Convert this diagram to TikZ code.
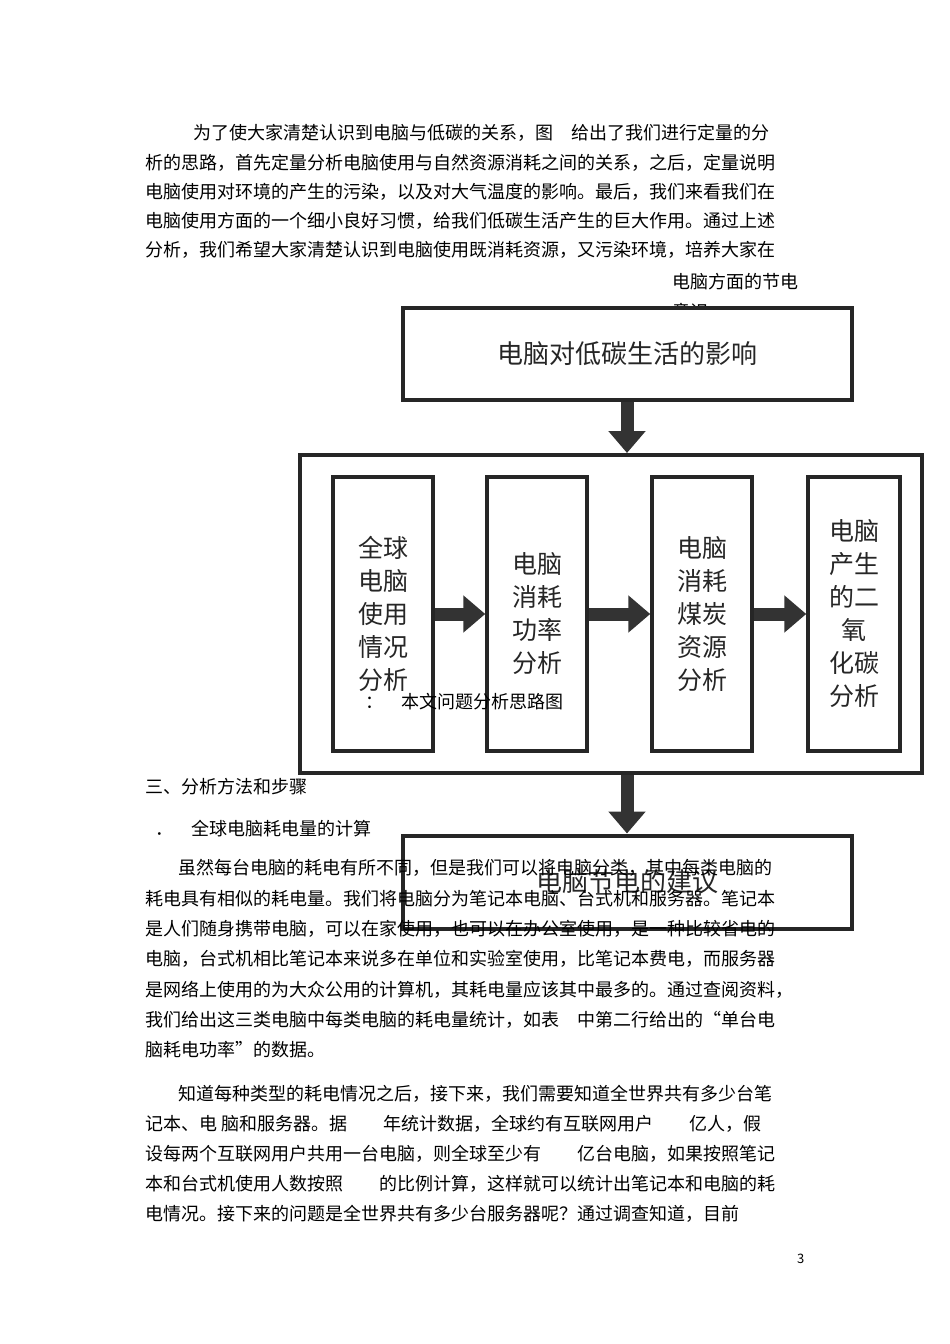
\documentclass[tikz,border=0pt]{standalone}
\usepackage{fontspec}
\setmainfont{Noto Sans CJK SC}
\usetikzlibrary{arrows.meta}
\tikzset{
 body/.style={anchor=base west,inner sep=0pt,font=\fontsize{18pt}{18pt}\selectfont},
 bigbox/.style={draw=black!85,line width=4pt,fill=white},
 subbox/.style={draw=black!85,line width=3.5pt,fill=white,minimum width=100pt,minimum height=274pt},
 boxtext/.style={font=\fontsize{25pt}{33pt}\selectfont,align=center,text=black!85},
 blockarrow/.style={draw=black!80,line width=13pt,-{Triangle[length=22pt,width=36pt]}},
}
\begin{document}
\begin{tikzpicture}[x=1pt,y=-1pt]
\useasboundingbox[fill=white] (0,0) rectangle (950,1344);
\node[body] (l1) at (193,139) {为了使大家清楚认识到电脑与低碳的关系，图\quad 给出了我们进行定量的分};
\node[body] (l2) at (145,169) {析的思路，首先定量分析电脑使用与自然资源消耗之间的关系，之后，定量说明};
\node[body] (l3) at (145,198) {电脑使用对环境的产生的污染，以及对大气温度的影响。最后，我们来看我们在};
\node[body] (l4) at (145,227) {电脑使用方面的一个细小良好习惯，给我们低碳生活产生的巨大作用。通过上述};
\node[body] (l5) at (145,256) {分析，我们希望大家清楚认识到电脑使用既消耗资源，又污染环境，培养大家在};
\node[body] (l6) at (672,288) {电脑方面的节电};
\node[body] (l7) at (672,318) {意识};
% diagram
\node[bigbox,minimum width=449pt,minimum height=92pt] (top) at (627,354) {};
\node[boxtext,font=\fontsize{26pt}{30pt}\selectfont] (topt) at (627,354) {电脑对低碳生活的影响};
\node[bigbox,minimum width=622pt,minimum height=318pt] (mid) at (611,614) {};
\node[bigbox,minimum width=449pt,minimum height=93pt] (bot) at (627,882) {};
\node[boxtext,font=\fontsize{26pt}{30pt}\selectfont] (bott) at (627,882) {电脑节电的建议};
\draw[blockarrow] (top.south) -- (top.south |- mid.north);
\draw[blockarrow] (top.south |- mid.south) -- (bot.north);
\node[subbox] (b1) at (383,614) {};
\node[subbox] (b2) at (537,614) {};
\node[subbox] (b3) at (702,614) {};
\node[subbox,minimum width=92pt] (b4) at (854,614) {};
\node[boxtext] at (b1) {全球\\电脑\\使用\\情况\\分析};
\node[boxtext] at (b2) {电脑\\消耗\\功率\\分析};
\node[boxtext] at (b3) {电脑\\消耗\\煤炭\\资源\\分析};
\node[boxtext] at (b4) {电脑\\产生\\的二\\氧\\化碳\\分析};
\draw[blockarrow] (b1.east) -- (b2.west);
\draw[blockarrow] (b2.east) -- (b3.west);
\draw[blockarrow] (b3.east) -- (b4.west);
\node[body] (cap) at (365,708) {：\quad 本文问题分析思路图};
% body
\node[body] (h3) at (145,793) {三、分析方法和步骤};
\node[body] (h31) at (155,835) {．\quad 全球电脑耗电量的计算};
\node[body] (p1) at (178,874) {虽然每台电脑的耗电有所不同，但是我们可以将电脑分类，其中每类电脑的};
\node[body] (p2) at (145,905) {耗电具有相似的耗电量。我们将电脑分为笔记本电脑、台式机和服务器。笔记本};
\node[body] (p3) at (145,935) {是人们随身携带电脑，可以在家使用，也可以在办公室使用，是一种比较省电的};
\node[body] (p4) at (145,965) {电脑，台式机相比笔记本来说多在单位和实验室使用，比笔记本费电，而服务器};
\node[body] (p5) at (145,996) {是网络上使用的为大众公用的计算机，其耗电量应该其中最多的。通过查阅资料，};
\node[body] (p6) at (145,1026) {我们给出这三类电脑中每类电脑的耗电量统计，如表\quad 中第二行给出的“单台电};
\node[body] (p7) at (145,1056) {脑耗电功率”的数据。};
\node[body] (q1) at (178,1100) {知道每种类型的耗电情况之后，接下来，我们需要知道全世界共有多少台笔};
\node[body] (q2) at (145,1130) {记本、电\ 脑和服务器。据\qquad 年统计数据，全球约有互联网用户\qquad 亿人，假};
\node[body] (q3) at (145,1160) {设每两个互联网用户共用一台电脑，则全球至少有\qquad 亿台电脑，如果按照笔记};
\node[body] (q4) at (145,1190) {本和台式机使用人数按照\qquad 的比例计算，这样就可以统计出笔记本和电脑的耗};
\node[body] (q5) at (145,1220) {电情况。接下来的问题是全世界共有多少台服务器呢？通过调查知道，目前};
\node[body,font=\fontsize{13pt}{14pt}\selectfont] (pg) at (797,1263) {3};
\end{tikzpicture}
\end{document}
